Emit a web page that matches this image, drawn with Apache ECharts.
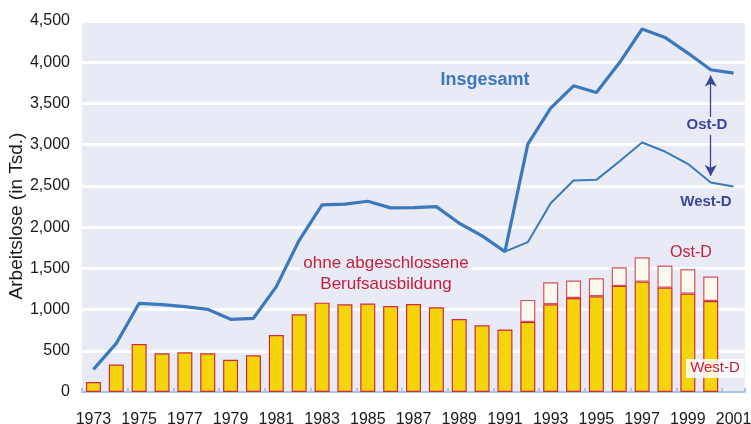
<!DOCTYPE html>
<html>
<head>
<meta charset="utf-8">
<style>
  html, body { margin: 0; padding: 0; background: #ffffff; }
  #chart { width: 751px; height: 424px; }
</style>
<script src="https://cdn.jsdelivr.net/npm/echarts@6/dist/echarts.min.js"></script>
</head>
<body>
<div id="chart"></div>
<script>
// years on the category axis (1973 .. 2001)
var years = [];
for (var y = 1973; y <= 2001; y++) years.push(String(y));

// Arbeitslose insgesamt (in Tsd.)
var insgesamt = [275, 590, 1076, 1060, 1036, 1003, 882, 894, 1278, 1840, 2270, 2278, 2314, 2233,
  2237, 2249, 2047, 1893, 1703, 3006, 3443, 3714, 3633, 3990, 4403, 4301, 4111, 3909, 3868];

// West-D line (from 1991 on)
var westLine = [null, null, null, null, null, null, null, null, null, null, null, null, null, null,
  null, null, null, null, 1703, 1817, 2290, 2565, 2573, 2796, 3026, 2917, 2768, 2541, 2492];

// ohne abgeschlossene Berufsausbildung: West-D part and Ost-D part
var ohneWest = [120, 333, 582, 470, 482, 470, 392, 445, 692, 943, 1084, 1064, 1072, 1044,
  1068, 1028, 886, 809, 758, 850, 1064, 1141, 1161, 1287, 1339, 1266, 1193, 1104, null];
var ohneOst = [null, null, null, null, null, null, null, null, null, null, null, null, null, null,
  null, null, null, null, null, 267, 267, 210, 219, 226, 296, 267, 296, 296, null];

var font = '"Liberation Sans", Arial, sans-serif';
var plotBg = '#e8ebf5';
var lineBlue = '#3b78bc';
var darkBlue = '#3a4699';
var red = '#c8203c';

var chart = echarts.init(document.getElementById('chart'));

var option = {
  animation: false,
  textStyle: { fontFamily: font },
  grid: {
    left: 82, right: 6, top: 21, bottom: 32,
    containLabel: false, outerBoundsMode: 'none',
    show: true, backgroundColor: plotBg, borderWidth: 0
  },
  xAxis: {
    type: 'category',
    data: years,
    boundaryGap: true,
    axisLine: { lineStyle: { color: '#a9c4e6', width: 2 } },
    axisTick: { show: true, inside: true, length: 4, lineStyle: { color: '#a9c4e6', width: 2 } },
    axisLabel: { interval: 1, color: '#1a1a1a', fontSize: 16, margin: 20, fontFamily: font },
    splitLine: { show: false }
  },
  yAxis: {
    type: 'value',
    min: 0, max: 4500, interval: 500,
    axisLine: { show: false },
    axisTick: { show: false },
    axisLabel: {
      color: '#1a1a1a', fontSize: 16, margin: 12, fontFamily: font,
      formatter: function (v) { return v.toLocaleString('en-US'); }
    },
    splitLine: { lineStyle: { color: '#ffffff', width: 3 } }
  },
  series: [
    {
      name: 'West-D Balken',
      type: 'bar',
      stack: 'ohne',
      data: ohneWest,
      barWidth: 15,
      z: 2,
      itemStyle: { color: '#f5d40c', borderColor: '#d2283e', borderWidth: 1.2 }
    },
    {
      name: 'Ost-D Balken',
      type: 'bar',
      stack: 'ohne',
      data: ohneOst,
      barWidth: 15,
      z: 2,
      itemStyle: { color: '#fcf9ee', borderColor: '#d9505e', borderWidth: 1.2 }
    },
    {
      name: 'Insgesamt',
      type: 'line',
      data: insgesamt,
      symbol: 'none',
      z: 4,
      lineStyle: { color: lineBlue, width: 3.2 }
    },
    {
      name: 'West-D',
      type: 'line',
      data: westLine,
      symbol: 'none',
      z: 4,
      lineStyle: { color: lineBlue, width: 2 },
      markLine: {
        silent: true,
        symbol: ['none', 'arrow'],
        symbolSize: [9, 11],
        label: { show: false },
        lineStyle: { color: darkBlue, width: 1.3, type: 'solid' },
        data: [
          [{ coord: [27, 3337] }, { coord: [27, 3840] }],
          [{ coord: [27, 3119] }, { coord: [27, 2620] }]
        ]
      }
    }
  ],
  graphic: [
    {
      type: 'text', x: 17, y: 216, rotation: Math.PI / 2, z: 10,
      style: { text: 'Arbeitslose (in Tsd.)', fill: '#1a1a1a', font: '19px ' + font,
        textAlign: 'center', textVerticalAlign: 'middle' }
    },
    {
      type: 'text', x: 485, y: 80, z: 10,
      style: { text: 'Insgesamt', fill: lineBlue, font: 'bold 18px ' + font,
        textAlign: 'center', textVerticalAlign: 'middle' }
    },
    {
      type: 'text', x: 707, y: 125, z: 10,
      style: { text: 'Ost-D', fill: darkBlue, font: 'bold 15px ' + font,
        textAlign: 'center', textVerticalAlign: 'middle' }
    },
    {
      type: 'text', x: 706, y: 202, z: 10,
      style: { text: 'West-D', fill: darkBlue, font: 'bold 15px ' + font,
        textAlign: 'center', textVerticalAlign: 'middle' }
    },
    {
      type: 'rect', z: 1,
      shape: { x: 300, y: 253, width: 172, height: 42 },
      style: { fill: plotBg }
    },
    {
      type: 'text', x: 386, y: 263, z: 10,
      style: { text: 'ohne abgeschlossene', fill: red, font: '17px ' + font,
        textAlign: 'center', textVerticalAlign: 'middle' }
    },
    {
      type: 'text', x: 386, y: 284, z: 10,
      style: { text: 'Berufsausbildung', fill: red, font: '17px ' + font,
        textAlign: 'center', textVerticalAlign: 'middle' }
    },
    {
      type: 'text', x: 691, y: 253, z: 10,
      style: { text: 'Ost-D', fill: red, font: '16px ' + font,
        textAlign: 'center', textVerticalAlign: 'middle' }
    },
    {
      type: 'rect', z: 9,
      shape: { x: 686, y: 359, width: 58, height: 19 },
      style: { fill: 'rgba(255,255,255,0.85)' }
    },
    {
      type: 'text', x: 715, y: 368, z: 10,
      style: { text: 'West-D', fill: red, font: '15px ' + font,
        textAlign: 'center', textVerticalAlign: 'middle' }
    }
  ]
};

chart.setOption(option);
</script>
</body>
</html>
